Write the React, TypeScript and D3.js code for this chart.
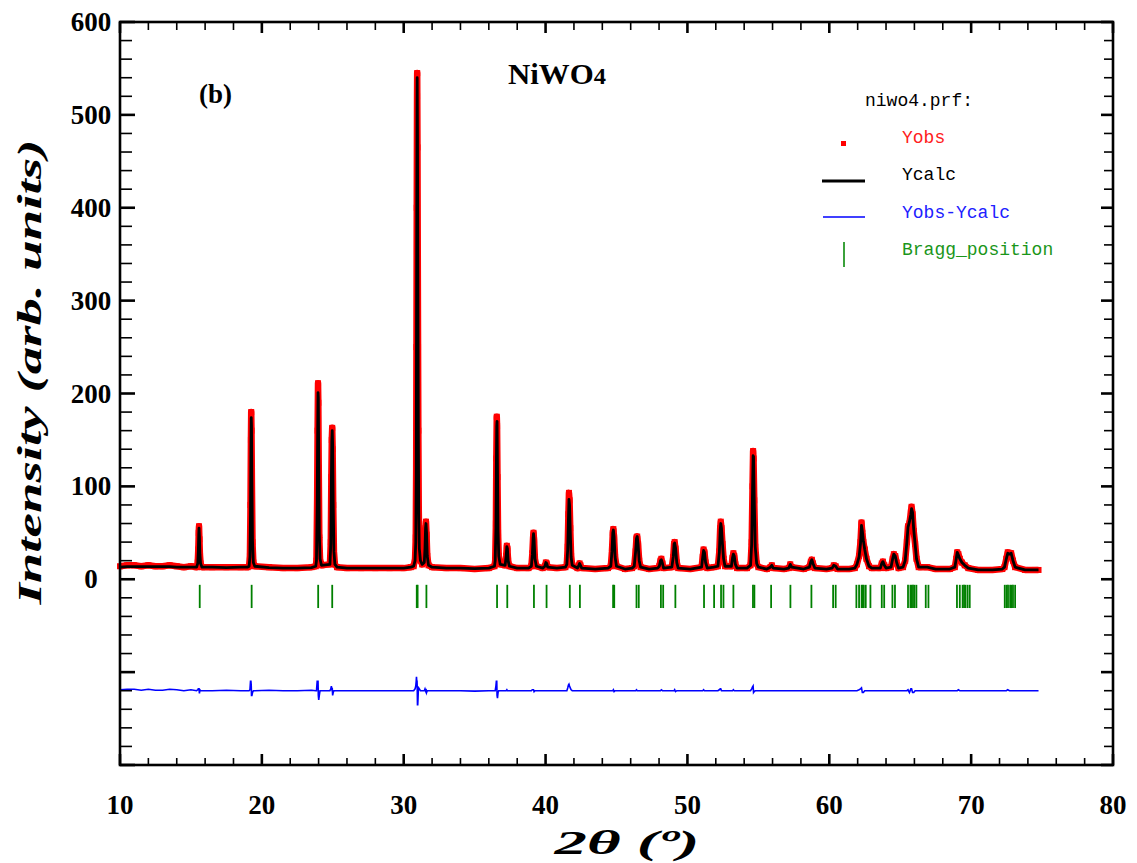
import React from "react";
import * as d3 from "d3";

// 2θ, Yobs, Ycalc
const profile: [number, number, number][] = [
  [10.0, 14, 13], [10.5, 15, 13.5], [11.0, 15, 13.5], [11.5, 14, 13.5], [12.0, 15, 13.5], [12.5, 14, 13.5],
  [13.0, 14, 13.5], [13.5, 15, 13.5], [14.0, 14, 13], [14.5, 13, 13], [15.0, 14, 13],
  [15.40, 13, 13], [15.48, 18, 17], [15.52, 32, 30], [15.55, 50, 48], [15.57, 57, 55], [15.60, 43, 46], [15.63, 28, 27], [15.68, 17, 17], [15.78, 13, 13],
  [16.5, 13, 13], [17.5, 13, 12.5], [18.5, 13, 13], [19.0, 13, 13],
  [19.10, 14, 14], [19.16, 25, 24], [19.20, 80, 70], [19.23, 150, 140], [19.25, 180, 174], [19.27, 160, 165], [19.30, 100, 105], [19.34, 40, 42], [19.40, 18, 18], [19.50, 14, 14],
  [20.5, 13, 12.5], [21.5, 12, 12], [22.5, 12, 12], [23.5, 13, 12.5], [23.8, 14, 14],
  [23.85, 20, 20], [23.90, 90, 80], [23.93, 160, 150], [23.96, 211, 201], [23.98, 190, 195], [24.01, 120, 130], [24.05, 45, 50], [24.10, 22, 22], [24.20, 15, 15],
  [24.80, 16, 16], [24.86, 40, 38], [24.90, 110, 105], [24.93, 150, 148], [24.96, 163, 160], [24.99, 140, 145], [25.03, 80, 82], [25.08, 30, 30], [25.15, 16, 16], [25.30, 13, 13],
  [26, 12, 12], [27, 12, 12], [28, 12, 12], [29, 12, 12], [30, 12, 12], [30.5, 13, 13],
  [30.70, 14, 14], [30.80, 22, 20], [30.85, 45, 40], [30.88, 120, 110], [30.90, 250, 235], [30.92, 400, 390], [30.94, 520, 510], [30.95, 545, 540],
  [30.97, 465, 480], [30.99, 350, 365], [31.01, 250, 258], [31.03, 160, 160], [31.06, 75, 72], [31.10, 35, 33], [31.18, 20, 20], [31.30, 16, 16],
  [31.45, 18, 18], [31.50, 35, 33], [31.54, 55, 55], [31.57, 62, 60], [31.61, 48, 50], [31.66, 25, 25], [31.75, 15, 15], [32.0, 13, 13],
  [33, 12, 12], [34, 12, 12], [35, 11, 11.5], [36, 12, 12], [36.4, 14, 14],
  [36.45, 20, 20], [36.50, 60, 55], [36.53, 130, 120], [36.56, 175, 165], [36.58, 165, 170], [36.61, 110, 118], [36.65, 50, 52], [36.70, 25, 25], [36.80, 16, 16],
  [37.15, 15, 15], [37.22, 25, 25], [37.27, 36, 35], [37.31, 33, 33], [37.36, 20, 20], [37.45, 14, 14], [38.0, 12, 12], [38.8, 12, 12],
  [39.00, 14, 14], [39.07, 28, 27], [39.12, 45, 44], [39.15, 50, 49], [39.19, 42, 43], [39.25, 22, 22], [39.35, 14, 14],
  [39.80, 12, 12], [39.95, 14, 14], [40.02, 18, 18], [40.08, 17, 17], [40.15, 13, 13], [40.8, 12, 12], [41.4, 13, 13],
  [41.50, 16, 16], [41.56, 35, 32], [41.61, 70, 64], [41.65, 93, 86], [41.69, 85, 80], [41.74, 55, 52], [41.80, 25, 24], [41.88, 15, 15],
  [42.25, 12, 12], [42.35, 15, 15], [42.40, 17, 17], [42.46, 15, 15], [42.55, 12, 12], [43.5, 11, 11], [44.4, 12, 12],
  [44.60, 14, 14], [44.68, 30, 30], [44.74, 50, 50], [44.78, 54, 53], [44.83, 45, 46], [44.90, 24, 24], [45.00, 14, 14], [45.6, 11, 11], [46.1, 12, 12],
  [46.25, 14, 14], [46.35, 30, 30], [46.41, 45, 44], [46.46, 46, 46], [46.52, 38, 38], [46.60, 20, 20], [46.70, 13, 13], [47.3, 11, 11], [47.9, 12, 12],
  [48.02, 14, 14], [48.10, 20, 20], [48.16, 22, 21], [48.24, 17, 17], [48.32, 12, 12],
  [48.90, 13, 13], [49.00, 24, 24], [49.06, 38, 38], [49.10, 40, 39], [49.16, 33, 34], [49.25, 18, 18], [49.35, 12, 12], [50.2, 11, 11],
  [51.00, 13, 13], [51.08, 24, 24], [51.14, 32, 31], [51.20, 29, 29], [51.28, 18, 18], [51.40, 12, 12], [51.85, 13, 13],
  [52.15, 14, 14], [52.25, 30, 29], [52.31, 55, 53], [52.35, 62, 60], [52.40, 55, 55], [52.47, 38, 38], [52.55, 22, 22], [52.65, 14, 14],
  [53.10, 14, 14], [53.18, 23, 23], [53.24, 28, 27], [53.30, 25, 25], [53.38, 16, 16], [53.50, 12, 12], [54.2, 12, 12],
  [54.45, 15, 15], [54.53, 40, 38], [54.59, 100, 96], [54.63, 138, 133], [54.66, 130, 132], [54.71, 85, 86], [54.78, 35, 35], [54.88, 17, 17], [55.00, 13, 13],
  [55.6, 11, 11], [55.85, 13, 13], [55.95, 15, 15], [56.05, 12, 12], [56.8, 11, 11],
  [57.15, 12, 12], [57.25, 16, 16], [57.35, 13, 13], [58.2, 11, 11],
  [58.60, 13, 13], [58.70, 19, 19], [58.77, 21, 21], [58.85, 17, 17], [58.98, 12, 12], [59.8, 11, 11],
  [60.20, 12, 12], [60.32, 15, 15], [60.45, 14, 14], [60.58, 11, 11], [61.4, 11, 11],
  [61.80, 12, 12], [61.95, 16, 16], [62.10, 25, 24], [62.20, 40, 38], [62.27, 61, 58], [62.33, 50, 52], [62.40, 40, 42], [62.50, 32, 32], [62.62, 22, 22], [62.80, 14, 14], [63.00, 12, 12],
  [63.60, 12, 12], [63.70, 17, 17], [63.78, 19, 19], [63.88, 15, 15], [64.00, 12, 12],
  [64.35, 13, 13], [64.47, 22, 22], [64.55, 27, 27], [64.65, 25, 25], [64.75, 18, 18], [64.88, 12, 12],
  [65.20, 13, 13], [65.35, 20, 20], [65.47, 40, 40], [65.55, 57, 56], [65.65, 60, 62], [65.75, 72, 70], [65.80, 78, 76], [65.87, 70, 72], [65.95, 52, 54], [66.05, 38, 38], [66.15, 22, 22], [66.30, 13, 13],
  [66.90, 13, 13], [67.5, 11, 11], [68.5, 11, 11],
  [68.85, 13, 13], [68.95, 22, 22], [69.02, 29, 29], [69.10, 27, 26], [69.20, 22, 22], [69.35, 18, 18], [69.55, 15, 15], [69.80, 12, 12],
  [70.5, 10, 10], [71.5, 10, 10], [72.2, 11, 11],
  [72.35, 13, 13], [72.48, 22, 22], [72.58, 29, 28], [72.70, 27, 27], [72.82, 28, 28], [72.95, 20, 20], [73.10, 13, 13],
  [73.8, 10, 10], [74.5, 10, 10], [74.75, 10, 10],
];

const braggPositions: number[] = [
  15.62, 19.28, 23.97, 24.96, 30.92, 30.98, 31.6, 36.58, 37.3, 39.18, 40.07,
  41.71, 42.42, 44.76, 44.84, 46.41, 46.57, 48.13, 48.29, 49.15, 51.17, 51.88, 52.37, 52.54, 53.24,
  54.62, 54.72, 55.9, 57.26, 58.74, 60.27, 60.45, 61.91, 62.1, 62.28, 62.35, 62.43, 62.57, 62.9,
  63.7, 63.87, 64.45, 64.63, 65.55, 65.72, 65.8, 65.9, 66.0, 66.14, 66.8, 66.99,
  69.0, 69.2, 69.4, 69.5, 69.6, 69.75, 69.9, 72.37, 72.5, 72.6, 72.75, 72.85, 72.95, 73.1,
];

const xTickLabels = [10, 20, 30, 40, 50, 60, 70, 80];
const yTickLabels = [0, 100, 200, 300, 400, 500, 600];
const diffOffset = -120;
const braggTop = -6;
const braggBottom = -31;

const W = 1137;
const H = 863;
const L = 120, R = 1113, T = 22, B = 765;

export default function App() {
  const x = d3.scaleLinear().domain([10, 80]).range([L, R]);
  const y = d3.scaleLinear().domain([-200, 600]).range([B, T]);

  const obsLine = d3.line<[number, number, number]>().x((d) => x(d[0])).y((d) => y(d[1]));
  const calcLine = d3.line<[number, number, number]>().x((d) => x(d[0])).y((d) => y(d[2]));
  const diffLine = d3.line<[number, number, number]>().x((d) => x(d[0])).y((d) => y(d[1] - d[2] + diffOffset));

  const xMinor = d3.range(10, 81, 2).filter((v) => v % 10 !== 0);
  const xMajor = d3.range(10, 81, 10);
  const yMinor = d3.range(-200, 601, 20).filter((v) => v % 100 !== 0);
  const yMajor = d3.range(-200, 601, 100);

  const serif = "'Liberation Serif', 'Times New Roman', serif";
  const mono = "'Liberation Mono', 'Courier New', monospace";

  return (
    <svg width={W} height={H} style={{ position: "absolute", left: 0, top: 0, background: "#fff" }}>
      <rect x={0} y={0} width={W} height={H} fill="#fff" />
      {/* Bragg positions */}
      <g stroke="#008000" strokeWidth={1.8}>
        {braggPositions.map((b, i) => (
          <line key={i} x1={x(b)} x2={x(b)} y1={y(braggTop)} y2={y(braggBottom)} />
        ))}
      </g>
      {/* Yobs */}
      <path d={obsLine(profile) || ""} fill="none" stroke="#ff0000" strokeWidth={6.5} strokeLinejoin="round" />
      <g fill="#ff0000">
        {profile.map((d, i) => (
          <rect key={i} x={x(d[0]) - 3} y={y(d[1]) - 3} width={6} height={6} />
        ))}
      </g>
      {/* Ycalc */}
      <path d={calcLine(profile) || ""} fill="none" stroke="#000" strokeWidth={2.8} strokeLinejoin="round" />
      {/* Difference */}
      <path d={diffLine(profile) || ""} fill="none" stroke="#0000ff" strokeWidth={1.6} />

      {/* Frame */}
      <rect x={L} y={T} width={R - L} height={B - T} fill="none" stroke="#000" strokeWidth={2.6} />
      {/* Ticks */}
      <g stroke="#000">
        {xMinor.map((v) => (
          <g key={"xm" + v} strokeWidth={1.6}>
            <line x1={x(v)} x2={x(v)} y1={B} y2={B - 7} />
            <line x1={x(v)} x2={x(v)} y1={T} y2={T + 8} />
          </g>
        ))}
        {xMajor.map((v) => (
          <g key={"xM" + v} strokeWidth={2.6}>
            <line x1={x(v)} x2={x(v)} y1={B} y2={B - 11} />
            <line x1={x(v)} x2={x(v)} y1={T} y2={T + 11} />
          </g>
        ))}
        {yMinor.map((v) => (
          <g key={"ym" + v} strokeWidth={1.6}>
            <line x1={L} x2={L + 12} y1={y(v)} y2={y(v)} />
            <line x1={R} x2={R - 9} y1={y(v)} y2={y(v)} />
          </g>
        ))}
        {yMajor.map((v) => (
          <g key={"yM" + v} strokeWidth={2.6}>
            <line x1={L} x2={L + 15} y1={y(v)} y2={y(v)} />
            <line x1={R} x2={R - 12} y1={y(v)} y2={y(v)} />
          </g>
        ))}
      </g>
      {/* Tick labels */}
      <g fontFamily={serif} fontWeight="bold" fontSize={27} fill="#000">
        {xTickLabels.map((v) => (
          <text key={"xl" + v} x={x(v)} y={814} textAnchor="middle">{v}</text>
        ))}
        {yTickLabels.map((v) => (
          <text key={"yl" + v} x={91} y={y(v) + 9} textAnchor="middle">{v}</text>
        ))}
      </g>
      {/* Axis titles */}
      <text x={627} y={854} textAnchor="middle" fontFamily={serif} fontWeight="bold" fontStyle="italic" fontSize={34}
        textLength={145} lengthAdjust="spacingAndGlyphs">2θ (º)</text>
      <text transform="translate(41,372) rotate(-90)" textAnchor="middle" fontFamily={serif} fontWeight="bold" fontStyle="italic"
        fontSize={34} textLength={465} lengthAdjust="spacingAndGlyphs">Intensity (arb. units)</text>
      {/* Title and panel label */}
      <text x={508} y={84} fontFamily={serif} fontWeight="bold" fontSize={29} textLength={98} lengthAdjust="spacingAndGlyphs">
        NiWO<tspan fontSize={23}>4</tspan>
      </text>
      <text x={199} y={103} fontFamily={serif} fontWeight="bold" fontSize={27}>(b)</text>
      {/* Legend */}
      <g fontFamily={mono} fontSize={18}>
        <text x={865} y={106} fill="#000">niwo4.prf:</text>
        <rect x={841} y={141} width={5} height={5} fill="#ff0000" />
        <text x={902} y={143} fill="#ff2020">Yobs</text>
        <line x1={822} x2={865} y1={181} y2={181} stroke="#000" strokeWidth={3} />
        <text x={902} y={180} fill="#000">Ycalc</text>
        <line x1={823} x2={865} y1={217} y2={217} stroke="#0000ff" strokeWidth={1.5} />
        <text x={902} y={218} fill="#2020ff">Yobs-Ycalc</text>
        <line x1={844} x2={844} y1={242} y2={267} stroke="#0a8a0a" strokeWidth={1.6} />
        <text x={902} y={255} fill="#1a961a">Bragg_position</text>
      </g>
    </svg>
  );
}
